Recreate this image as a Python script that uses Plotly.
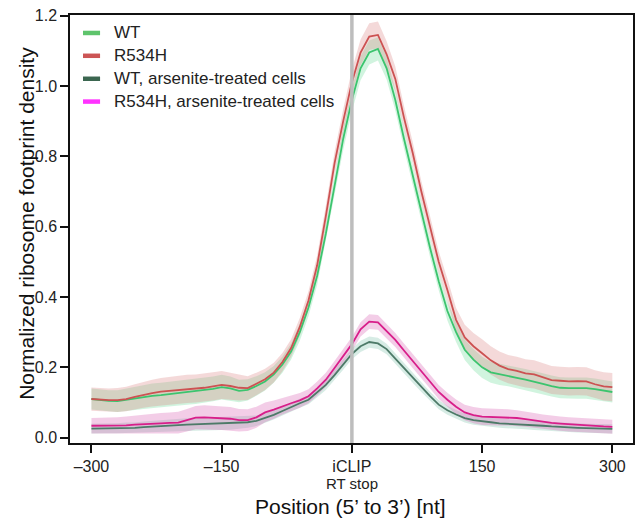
import plotly.graph_objects as go

positions = list(range(-300, 301, 10))

wt = [0.110, 0.107, 0.105, 0.104, 0.108, 0.112, 0.116, 0.119, 0.121, 0.124,
      0.127, 0.129, 0.131, 0.134, 0.139, 0.144, 0.140, 0.133, 0.136, 0.147,
      0.160, 0.180, 0.208, 0.245, 0.300, 0.370, 0.460, 0.580, 0.720, 0.850,
      0.960, 1.050, 1.095, 1.105, 1.050, 0.960, 0.850, 0.745, 0.640, 0.540,
      0.445, 0.360, 0.300, 0.250, 0.222, 0.200, 0.186, 0.180, 0.176, 0.170,
      0.165, 0.158, 0.153, 0.147, 0.142, 0.141, 0.141, 0.141, 0.138, 0.133,
      0.130]
wt_err = [0.030, 0.030, 0.030, 0.031, 0.032, 0.033, 0.034, 0.035, 0.035, 0.035,
          0.035, 0.035, 0.035, 0.035, 0.035, 0.035, 0.034, 0.032, 0.030, 0.028,
          0.026, 0.024, 0.023, 0.023, 0.024, 0.025, 0.026, 0.028, 0.030, 0.032,
          0.033, 0.034, 0.034, 0.033, 0.032, 0.030, 0.028, 0.027, 0.026, 0.026,
          0.026, 0.027, 0.028, 0.029, 0.030, 0.030, 0.030, 0.030, 0.030, 0.030,
          0.030, 0.030, 0.030, 0.030, 0.030, 0.030, 0.030, 0.030, 0.030, 0.030,
          0.030]

r534h = [0.110, 0.108, 0.107, 0.107, 0.110, 0.116, 0.122, 0.127, 0.131, 0.133,
         0.137, 0.139, 0.140, 0.142, 0.146, 0.150, 0.147, 0.142, 0.141, 0.153,
         0.166, 0.185, 0.215, 0.255, 0.315, 0.390, 0.490, 0.630, 0.780, 0.900,
         1.010, 1.095, 1.140, 1.145, 1.090, 1.020, 0.910, 0.810, 0.700, 0.600,
         0.500, 0.420, 0.335, 0.285, 0.260, 0.240, 0.220, 0.205, 0.195, 0.190,
         0.183, 0.180, 0.172, 0.164, 0.162, 0.160, 0.161, 0.160, 0.152, 0.146,
         0.144]
r534h_err = [0.033, 0.033, 0.033, 0.034, 0.035, 0.036, 0.037, 0.038, 0.039, 0.040,
             0.040, 0.040, 0.040, 0.040, 0.040, 0.040, 0.038, 0.036, 0.034, 0.032,
             0.030, 0.028, 0.026, 0.025, 0.025, 0.026, 0.028, 0.030, 0.032, 0.034,
             0.036, 0.037, 0.038, 0.038, 0.037, 0.035, 0.033, 0.031, 0.030, 0.030,
             0.030, 0.032, 0.034, 0.036, 0.038, 0.040, 0.040, 0.040, 0.040, 0.040,
             0.040, 0.040, 0.040, 0.040, 0.040, 0.040, 0.040, 0.040, 0.040, 0.040,
             0.040]

wt_ars = [0.026, 0.026, 0.027, 0.027, 0.028, 0.028, 0.030, 0.032, 0.034, 0.035,
          0.036, 0.037, 0.038, 0.039, 0.040, 0.040, 0.041, 0.042, 0.044, 0.048,
          0.056, 0.065, 0.076, 0.088, 0.098, 0.108, 0.128, 0.150, 0.178, 0.208,
          0.238, 0.260, 0.272, 0.268, 0.252, 0.225, 0.198, 0.170, 0.143, 0.118,
          0.094, 0.078, 0.066, 0.056, 0.050, 0.046, 0.044, 0.041, 0.040, 0.038,
          0.037, 0.035, 0.034, 0.032, 0.030, 0.029, 0.028, 0.027, 0.026, 0.025,
          0.025]
wt_ars_err = [0.014, 0.014, 0.014, 0.014, 0.015, 0.015, 0.016, 0.016, 0.017, 0.017,
              0.018, 0.018, 0.018, 0.018, 0.018, 0.018, 0.018, 0.017, 0.016, 0.015,
              0.014, 0.013, 0.013, 0.013, 0.013, 0.013, 0.013, 0.014, 0.014, 0.015,
              0.015, 0.016, 0.016, 0.016, 0.015, 0.015, 0.014, 0.014, 0.013, 0.013,
              0.013, 0.013, 0.013, 0.013, 0.013, 0.013, 0.013, 0.013, 0.013, 0.013,
              0.013, 0.013, 0.013, 0.013, 0.013, 0.013, 0.013, 0.013, 0.013, 0.013,
              0.013]

r534h_ars = [0.034, 0.034, 0.034, 0.034, 0.035, 0.037, 0.039, 0.040, 0.041, 0.042,
             0.043, 0.050, 0.057, 0.058, 0.057, 0.056, 0.054, 0.050, 0.050, 0.058,
             0.072, 0.080, 0.090, 0.098, 0.106, 0.118, 0.140, 0.165, 0.198, 0.232,
             0.266, 0.308, 0.330, 0.328, 0.303, 0.278, 0.248, 0.218, 0.188, 0.160,
             0.130, 0.108, 0.088, 0.072, 0.064, 0.060, 0.059, 0.059, 0.058, 0.056,
             0.053, 0.049, 0.045, 0.042, 0.040, 0.038, 0.037, 0.035, 0.033, 0.032,
             0.031]
r534h_ars_err = [0.022, 0.022, 0.023, 0.024, 0.025, 0.026, 0.027, 0.028, 0.029, 0.030,
                 0.031, 0.032, 0.033, 0.034, 0.034, 0.034, 0.033, 0.032, 0.031, 0.030,
                 0.028, 0.026, 0.024, 0.022, 0.021, 0.020, 0.020, 0.020, 0.020, 0.020,
                 0.020, 0.020, 0.021, 0.021, 0.021, 0.020, 0.020, 0.020, 0.020, 0.020,
                 0.020, 0.020, 0.021, 0.022, 0.023, 0.024, 0.024, 0.024, 0.023, 0.022,
                 0.022, 0.021, 0.021, 0.020, 0.020, 0.020, 0.020, 0.020, 0.020, 0.020,
                 0.020]

series_names = ["WT", "R534H", "WT, arsenite-treated cells", "R534H, arsenite-treated cells"]
legend_colors = ["#5ec46c", "#cc5555", "#3b6650", "#ff33ff"]
line_colors = ["#3cc46e", "#cc5252", "#4d7a68", "#d81e8a"]
band_colors = ["rgba(90,215,140,0.28)", "rgba(220,130,130,0.30)",
               "rgba(110,185,160,0.28)", "rgba(215,90,175,0.30)"]

x_tickvals = [-300, -150, 0, 150, 300]
x_ticktext = ["\u2013300", "\u2013150", "iCLIP", "150", "300"]
y_tickvals = [0.0, 0.2, 0.4, 0.6, 0.8, 1.0, 1.2]
y_ticktext = ["0.0", "0.2", "0.4", "0.6", "0.8", "1.0", "1.2"]

means = [wt, r534h, wt_ars, r534h_ars]
errs = [wt_err, r534h_err, wt_ars_err, r534h_ars_err]

FONT = "Liberation Sans, Arial, Helvetica, sans-serif"

fig = go.Figure()

# bands
for m, e, bc in zip(means, errs, band_colors):
    upper = [a + b for a, b in zip(m, e)]
    lower = [a - b for a, b in zip(m, e)]
    fig.add_trace(go.Scatter(
        x=positions + positions[::-1],
        y=upper + lower[::-1],
        fill="toself", fillcolor=bc, line=dict(width=0),
        mode="lines", hoverinfo="skip", showlegend=False))

# lines
for m, lc, name in zip(means, line_colors, series_names):
    fig.add_trace(go.Scatter(
        x=positions, y=m, mode="lines", name=name,
        line=dict(color=lc, width=1.8), showlegend=False))

shapes = [dict(type="line", xref="x", yref="paper", x0=0, x1=0, y0=0, y1=1,
               line=dict(color="#bdbdbd", width=3.5), layer="above")]
annotations = []

# manual legend
leg_y = [0.958, 0.9047, 0.851, 0.7977]
for name, col, yy in zip(series_names, legend_colors, leg_y):
    shapes.append(dict(type="line", xref="paper", yref="paper",
                       x0=0.0231, x1=0.0534, y0=yy, y1=yy,
                       line=dict(color=col, width=4.5)))
    annotations.append(dict(xref="paper", yref="paper", x=0.0745, y=yy,
                            text=name, showarrow=False, xanchor="left", yanchor="middle",
                            font=dict(family=FONT, size=17, color="#222222")))

annotations.append(dict(xref="x", yref="paper", x=0, y=-0.0953, text="RT stop",
                        showarrow=False, xanchor="center", yanchor="middle",
                        font=dict(family=FONT, size=15, color="#222222")))
annotations.append(dict(xref="paper", yref="paper", x=0.499, y=-0.1495,
                        text="Position (5\u2019 to 3\u2019) [nt]",
                        showarrow=False, xanchor="center", yanchor="middle",
                        font=dict(family=FONT, size=21, color="#111111")))
annotations.append(dict(xref="paper", yref="paper", x=-0.0775, y=0.513,
                        text="Normalized ribosome footprint density", textangle=-90,
                        showarrow=False, xanchor="center", yanchor="middle",
                        font=dict(family=FONT, size=21, color="#111111")))

fig.update_layout(
    width=642, height=521,
    margin=dict(l=70, r=7, t=13, b=78),
    plot_bgcolor="white", paper_bgcolor="white",
    showlegend=False,
    shapes=shapes, annotations=annotations,
    font=dict(family=FONT, color="#222222"),
)
fig.update_xaxes(range=[-324.7, 323.8], tickvals=x_tickvals, ticktext=x_ticktext,
                 showline=True, linecolor="#111111", linewidth=1.5, mirror=True,
                 ticks="outside", ticklen=8, tickwidth=1.5, tickcolor="#111111",
                 showgrid=False, zeroline=False,
                 tickfont=dict(family=FONT, size=16, color="#222222"))
fig.update_yaxes(range=[-0.015, 1.2016], tickvals=y_tickvals, ticktext=y_ticktext,
                 showline=True, linecolor="#111111", linewidth=1.5, mirror=True,
                 ticks="outside", ticklen=8, tickwidth=1.5, tickcolor="#111111",
                 showgrid=False, zeroline=False,
                 tickfont=dict(family=FONT, size=16, color="#222222"))

fig.write_html("out.html", config={"displayModeBar": False},
               post_script="document.body.style.margin='0';")
